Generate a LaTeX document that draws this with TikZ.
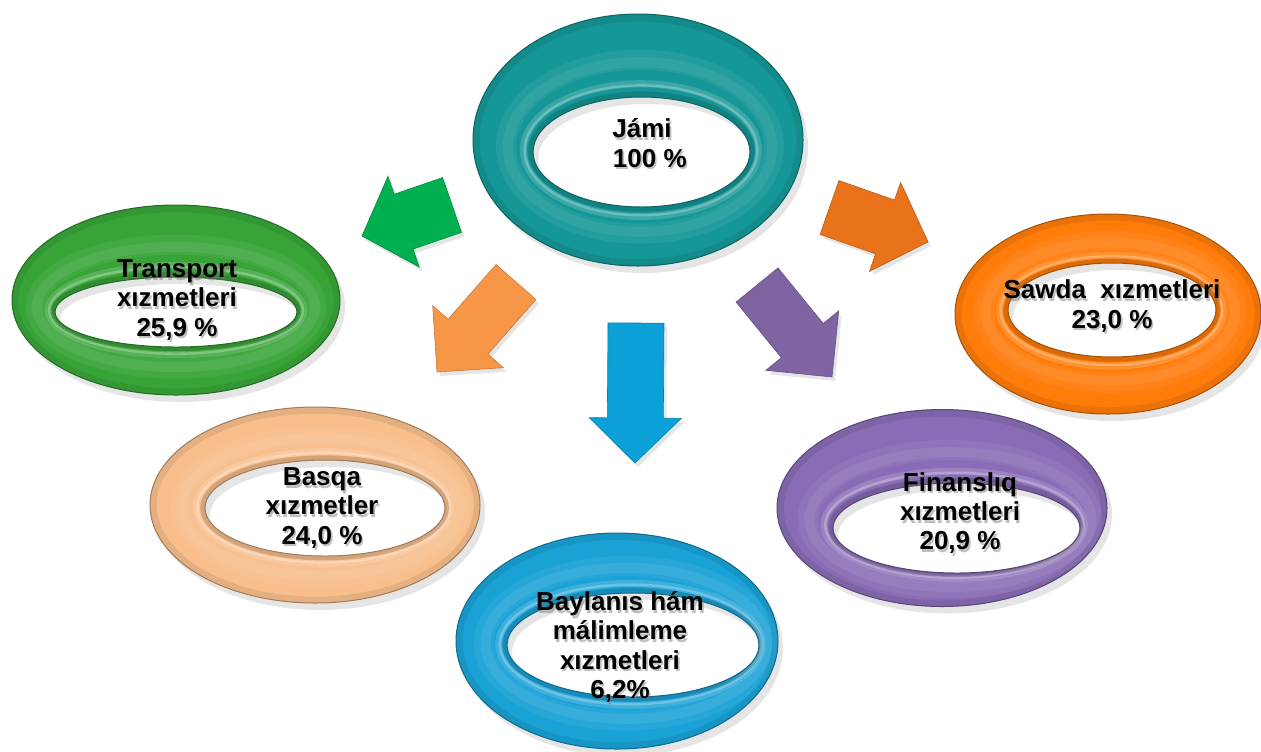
\documentclass[tikz,border=0pt]{standalone}
\usepackage{fontspec}
\setmainfont{Liberation Sans}
\definecolor{cteal}{HTML}{169797}
\definecolor{cgreen}{HTML}{38A438}
\definecolor{corange}{HTML}{FF7C0A}
\definecolor{cpeach}{HTML}{F8BE8C}
\definecolor{cblue}{HTML}{1AA2D6}
\definecolor{cpurple}{HTML}{896CB6}
\definecolor{agreen}{HTML}{00B050}
\definecolor{aorange}{HTML}{E8731A}
\definecolor{alight}{HTML}{F79646}
\definecolor{ablue}{HTML}{0BA0D8}
\definecolor{apurple}{HTML}{8064A2}
\tikzset{
  txt/.style={font=\bfseries\fontsize{13}{14.6}\selectfont, align=center, text=black, inner sep=0pt},
  txtsh/.style={txt, text=black!55, opacity=0.45},
}
% ring: outer cx,cy,rx,ry ; inner cx,cy,rx,ry ; colour
\newcommand\myring[9]{%
  \fill[black,opacity=0.10,even odd rule] (#1+5,#2+7) ellipse[x radius=#3,y radius=#4] (#5+5,#6+7) ellipse[x radius=#7,y radius=#8];
  \fill[#9,even odd rule] (#1,#2) ellipse[x radius=#3,y radius=#4] (#5,#6) ellipse[x radius=#7,y radius=#8];
  \begin{scope}[even odd rule]
    \clip (#1,#2) ellipse[x radius=#3,y radius=#4] (#5,#6) ellipse[x radius=#7,y radius=#8];
    \foreach \rgt/\rgc/\rgw/\rgo in {0.97/black/5/0.08, 0.45/white/10/0.06, 0.42/white/5/0.07, 0.16/white/3.5/0.16, 0.14/white/1.2/0.25, 0.03/black/3/0.14}{
      \pgfmathsetmacro\rgcx{#5+\rgt*(#1-(#5))}
      \pgfmathsetmacro\rgcy{#6+\rgt*(#2-(#6))}
      \pgfmathsetmacro\rgrx{#7+\rgt*(#3-(#7))}
      \pgfmathsetmacro\rgry{#8+\rgt*(#4-(#8))}
      \draw[\rgc, line width=\rgw pt, opacity=\rgo] (\rgcx,\rgcy) ellipse[x radius=\rgrx, y radius=\rgry];
    }
  \end{scope}
  \draw[#9!65!black, line width=0.5pt] (#1,#2) ellipse[x radius=#3,y radius=#4] (#5,#6) ellipse[x radius=#7,y radius=#8];
}
% block arrow: colour, tail x,y, tip x,y, shaft half, head half, head length
\newcommand\blockarrow[8]{%
  \pgfmathsetmacro\baDx{#4-(#2)}
  \pgfmathsetmacro\baDy{#5-(#3)}
  \pgfmathsetmacro\baL{veclen(\baDx,\baDy)}
  \pgfmathsetmacro\baUx{\baDx/\baL}
  \pgfmathsetmacro\baUy{\baDy/\baL}
  \pgfmathsetmacro\baNx{-\baUy}
  \pgfmathsetmacro\baNy{\baUx}
  \pgfmathsetmacro\baBx{#4-#8*(\baUx)}
  \pgfmathsetmacro\baBy{#5-#8*(\baUy)}
  \pgfmathsetmacro\pAx{#2+#6*(\baNx)}\pgfmathsetmacro\pAy{#3+#6*(\baNy)}
  \pgfmathsetmacro\pBx{\baBx+#6*(\baNx)}\pgfmathsetmacro\pBy{\baBy+#6*(\baNy)}
  \pgfmathsetmacro\pCx{\baBx+#7*(\baNx)}\pgfmathsetmacro\pCy{\baBy+#7*(\baNy)}
  \pgfmathsetmacro\pDx{\baBx-#7*(\baNx)}\pgfmathsetmacro\pDy{\baBy-#7*(\baNy)}
  \pgfmathsetmacro\pEx{\baBx-#6*(\baNx)}\pgfmathsetmacro\pEy{\baBy-#6*(\baNy)}
  \pgfmathsetmacro\pFx{#2-#6*(\baNx)}\pgfmathsetmacro\pFy{#3-#6*(\baNy)}
  \fill[black,opacity=0.10,shift={(3,4)}]
    (\pAx,\pAy) -- (\pBx,\pBy) -- (\pCx,\pCy) -- (#4,#5) -- (\pDx,\pDy) -- (\pEx,\pEy) -- (\pFx,\pFy) -- cycle;
  \filldraw[fill=#1, draw=#1!80!black, line width=0.3pt]
    (\pAx,\pAy) -- (\pBx,\pBy) -- (\pCx,\pCy) -- (#4,#5) -- (\pDx,\pDy) -- (\pEx,\pEy) -- (\pFx,\pFy) -- cycle;
}
\newcommand\ringtext[4]{%
  \node[txtsh] at (#2+1.6,#3+2.6) {#4};
  \node[txt] (#1) at (#2,#3) {#4};
}
\begin{document}
\begin{tikzpicture}[x=0.5pt,y=-0.5pt]
\useasboundingbox (0,0) rectangle (1261,751);
\fill[white] (0,0) rectangle (1261,751);

% rings
\myring{638}{140}{165}{126}{641.5}{152}{108.5}{55}{cteal}
\myring{176}{300}{164}{95}{176}{312}{121}{35}{cgreen}
\myring{1108}{314}{153}{100}{1112}{310}{104}{47}{corange}
\myring{315}{505}{165}{98}{325}{508}{120}{48}{cpeach}
\myring{942}{508}{165}{98.5}{956.5}{528}{123.5}{45}{cpurple}
\myring{617}{641}{161}{108}{633}{645}{126}{52}{cblue}

% arrows
\blockarrow{agreen}{452}{205}{362}{236}{29}{48}{44}
\blockarrow{alight}{516}{282}{437}{372}{26.5}{47}{47}
\blockarrow{ablue}{636}{323}{635}{463}{28}{46}{45}
\blockarrow{apurple}{757}{285}{832}{377}{27}{47}{47}
\blockarrow{aorange}{829.5}{207.5}{928}{242}{28.5}{47}{45.5}

% texts
\ringtext{jami}{642}{143}{Jámi\\\hspace*{0.6em}100 \%}
\ringtext{transport}{177}{300}{Transport\\xızmetleri\\25,9 \%}
\ringtext{sawda}{1112}{306}{Sawda\ \ xızmetleri\\23,0 \%}
\ringtext{basqa}{322}{508}{Basqa\\xızmetler\\24,0 \%}
\ringtext{finans}{960}{513}{Finanslıq\\xızmetleri\\20,9 \%}
\ringtext{baylanis}{620}{647}{Baylanıs hám\\málimleme\\xızmetleri\\6,2\%}
\end{tikzpicture}
\end{document}
